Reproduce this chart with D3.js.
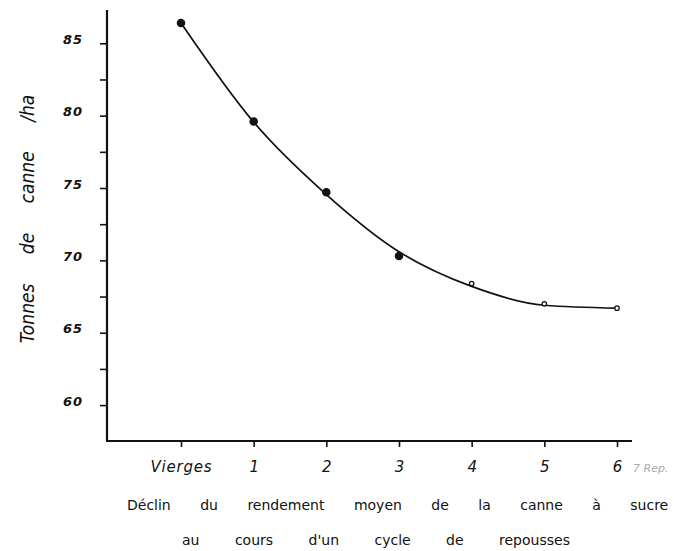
<!DOCTYPE html>
<html>
<head>
<meta charset="utf-8">
<script src="https://cdn.jsdelivr.net/npm/d3@7"></script>
<style>
  html, body { margin: 0; padding: 0; background: #fff; }
  svg { display: block; }
</style>
</head>
<body>
<svg id="chart" width="674" height="551"></svg>
<script>
// ---- data ----
const categories = ["Vierges", "1", "2", "3", "4", "5", "6"];
const observed   = [86.4, 79.6, 74.7, 70.3, 68.4, 67.0, 66.7];   // plotted points (t/ha)
const fitted     = [86.4, 79.55, 74.55, 70.6, 68.2, 66.9, 66.7]; // smoothed curve through the points
const yTicks     = [60, 62.5, 65, 67.5, 70, 72.5, 75, 77.5, 80, 82.5, 85];
const yLabels    = [60, 65, 70, 75, 80, 85];
const yTitle     = "Tonnes de canne /ha";
const xTitle1    = "Déclin du rendement moyen de la canne à sucre";
const xTitle2    = "au cours d'un cycle de repousses";
const xExtra     = "7 Rep.";

const svg = d3.select("#chart");

const axisX0 = 107, axisY0 = 441;
const y = d3.scaleLinear().domain([57.45, 87.3]).range([442, 10]);
const x = d3.scalePoint().domain(categories).range([181, 617]);

// axis lines
svg.append("line").attr("x1", axisX0).attr("x2", axisX0).attr("y1", 10).attr("y2", 442)
  .attr("stroke", "#111").attr("stroke-width", 2.2);
svg.append("line").attr("x1", axisX0 - 1).attr("x2", 632).attr("y1", axisY0).attr("y2", axisY0)
  .attr("stroke", "#111").attr("stroke-width", 2.2);

// y axis ticks
const yAxis = d3.axisLeft(y).tickValues(yTicks).tickSize(7).tickSizeOuter(0)
  .tickFormat(d => yLabels.includes(d) ? String(d) : "");
const gy = svg.append("g").attr("transform", `translate(${axisX0},0)`).call(yAxis);
gy.select(".domain").remove();
gy.selectAll(".tick line").attr("stroke", "#111").attr("stroke-width", 1.6);
gy.selectAll(".tick text")
  .attr("x", -34).attr("dy", "0em")
  .attr("text-anchor", "middle")
  .style("font-family", "'DejaVu Sans', sans-serif")
  .style("font-style", "italic").style("font-weight", "bold")
  .style("font-size", "13px").style("letter-spacing", "1px")
  .attr("fill", "#111");

// x axis ticks
const xAxis = d3.axisBottom(x).tickSize(6).tickSizeOuter(0);
const gx = svg.append("g").attr("transform", `translate(0,${axisY0})`).call(xAxis);
gx.select(".domain").remove();
gx.selectAll(".tick line").attr("stroke", "#111").attr("stroke-width", 1.6);
gx.selectAll(".tick text")
  .attr("y", 31).attr("dy", 0)
  .style("font-family", "'DejaVu Sans', sans-serif")
  .style("font-style", "italic")
  .style("font-size", "15px")
  .style("letter-spacing", d => d === "Vierges" ? "0.8px" : "0px")
  .attr("fill", "#111");

svg.append("text").attr("x", 633).attr("y", 472).text(xExtra)
  .style("font-family", "'DejaVu Sans', sans-serif").style("font-style", "italic")
  .style("font-size", "11px").attr("fill", "#aaa");

// fitted curve
const line = d3.line()
  .x((d, i) => x(categories[i]))
  .y(d => y(d))
  .curve(d3.curveMonotoneX);
svg.append("path").datum(fitted).attr("d", line)
  .attr("fill", "none").attr("stroke", "#111").attr("stroke-width", 1.7);

// points
svg.selectAll("circle.pt").data(observed).enter().append("circle")
  .attr("class", "pt")
  .attr("cx", (d, i) => x(categories[i]))
  .attr("cy", d => y(d))
  .attr("r", (d, i) => i < 4 ? 3.6 : 2.2)
  .attr("fill", (d, i) => i < 4 ? "#111" : "#fff")
  .attr("stroke", "#111").attr("stroke-width", 1.3);

// y title
svg.append("text")
  .attr("transform", "translate(34,219) rotate(-90)")
  .attr("text-anchor", "middle")
  .style("font-family", "'DejaVu Sans Condensed', 'Liberation Sans Narrow', 'DejaVu Sans', sans-serif")
  .style("font-style", "italic")
  .style("font-size", "19px")
  .style("word-spacing", "24px")
  .attr("fill", "#111")
  .text(yTitle);

// x titles
svg.append("text").attr("x", 127).attr("y", 510)
  .style("font-family", "'DejaVu Sans', sans-serif")
  .style("font-size", "14px")
  .style("word-spacing", "25px")
  .attr("fill", "#111")
  .text(xTitle1);
svg.append("text").attr("x", 182).attr("y", 545)
  .style("font-family", "'DejaVu Sans', sans-serif")
  .style("font-size", "14px")
  .style("word-spacing", "31px")
  .attr("fill", "#111")
  .text(xTitle2);
</script>
</body>
</html>
